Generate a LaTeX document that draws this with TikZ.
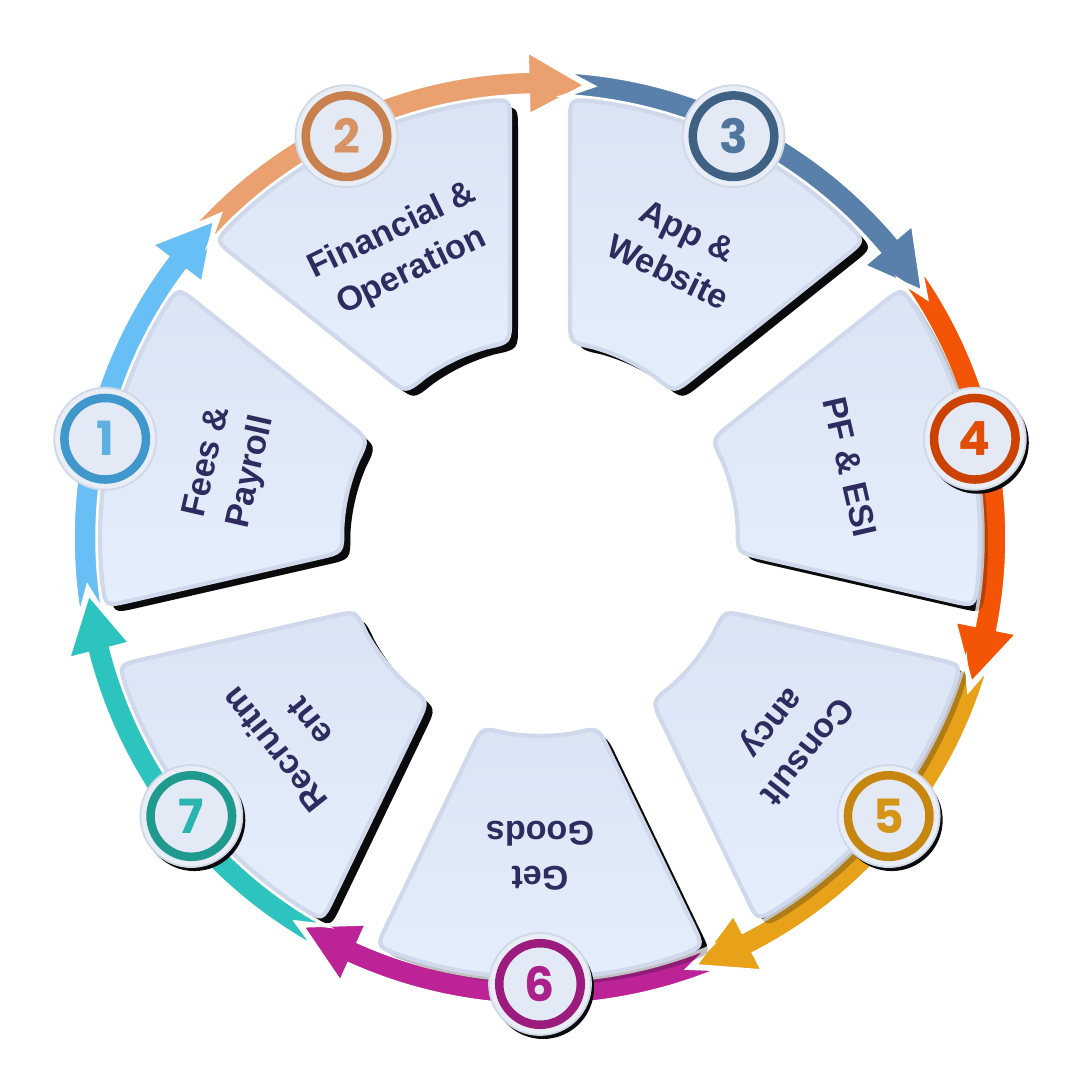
\documentclass[tikz,border=0pt]{standalone}
\usepackage{fontspec}
\setmainfont{Liberation Sans}
\newfontfamily\digitfont{Poppins}
\usetikzlibrary{calc}
\definecolor{Ink}{HTML}{2E2C5F}
\definecolor{CardTop}{HTML}{DBE4F4}
\definecolor{CardBot}{HTML}{E5EEFC}
\definecolor{CardEdge}{HTML}{D0D9EB}
\definecolor{Shade}{HTML}{0B0B0D}
\definecolor{Disc}{HTML}{E8EDF6}
\definecolor{DiscEdge}{HTML}{D0D8E6}
\definecolor{DiscIn}{HTML}{E3EAF6}
\definecolor{ArcA}{HTML}{67BFF6}
\definecolor{RingA}{HTML}{3F97CB}
\definecolor{ArcB}{HTML}{EAA06F}
\definecolor{RingB}{HTML}{C9804F}
\definecolor{ArcC}{HTML}{5880AB}
\definecolor{RingC}{HTML}{3F6184}
\definecolor{ArcD}{HTML}{F35405}
\definecolor{RingD}{HTML}{CC4200}
\definecolor{ArcE}{HTML}{E8A219}
\definecolor{RingE}{HTML}{C7860F}
\definecolor{ArcF}{HTML}{BB2397}
\definecolor{RingF}{HTML}{9B1C7D}
\definecolor{ArcG}{HTML}{2DC3BF}
\definecolor{RingG}{HTML}{20998F}

% one card, pointing along 0 degrees
\newcommand{\cardpath}{(18.68:440) arc[start angle=18.68, end angle=-18.68, radius=440]
  .. controls (-21.805:440) .. (-21.579:416.06) -- (-17.938:221.75)
  .. controls (-17:198) .. (-10.06:198) arc[start angle=-10.06, end angle=10.06, radius=198]
  .. controls (17:198) .. (17.938:221.75) -- (21.579:416.06)
  .. controls (21.805:440) .. cycle}

\begin{document}
\begin{tikzpicture}[x=0.01cm, y=0.01cm,
    card/.style={top color=CardTop, bottom color=CardBot, draw=CardEdge, line width=1.2pt},
    arcband/.style={draw=white, line width=1pt, line join=miter},
    disc/.style={circle, minimum size=1.02cm, inner sep=0pt, fill=Disc, draw=DiscEdge, line width=0.5pt},
    ring/.style={circle, minimum size=0.815cm, inner sep=0pt, line width=2.42pt, fill=DiscIn},
    steptext/.style={align=center, text=Ink, font=\bfseries\fontsize{9.7}{12.8}\selectfont}]
  \useasboundingbox (-540,-542) rectangle (540,538);

  % card shadows
  \foreach \k [evaluate=\k as \a using 167.142857-51.428571*(\k-1)] in {1,...,7} {
    \begin{scope}[shift={(8,-7)}, rotate=\a]
      \fill[Shade] \cardpath;
    \end{scope}
  }

  % ring of arrows
  \foreach \k/\arc in {1/ArcA,2/ArcB,3/ArcC,4/ArcD,5/ArcE,6/ArcF,7/ArcG} {
    \pgfmathsetmacro\a{167.142857-51.428571*(\k-1)}
    \pgfmathsetmacro\A{\a+22.5}
    \pgfmathsetmacro\T{\a-31.5}
    \pgfmathsetmacro\B{\T+7.3}
    \pgfmathsetmacro\N{\A-3.5}
    \filldraw[fill=\arc, arcband] (\A:467) arc[start angle=\A, end angle=\B, radius=467]
      -- (\B:487) -- (\T:455) -- (\B:423) -- (\B:443)
      arc[start angle=\B, end angle=\A, radius=443] -- (\N:455) -- cycle;
  }

  % shadow tint over the arrows
  \foreach \k [evaluate=\k as \a using 167.142857-51.428571*(\k-1)] in {1,...,7} {
    \begin{scope}[shift={(8,-7)}, rotate=\a]
      \fill[Shade, opacity=0.25] \cardpath;
    \end{scope}
  }

  % cards and labels
  \foreach \k/\label in {1/{Fees \&\\Payroll}, 2/{Financial \&\\Operation}, 3/{App \&\\Website},
      4/{PF \& ESI}, 5/{Consult\\ancy}, 6/{Get\\Goods}, 7/{Recruitm\\ent}} {
    \pgfmathsetmacro\a{167.142857-51.428571*(\k-1)}
    \begin{scope}[rotate=\a]
      \path[card] \cardpath;
    \end{scope}
    \node[steptext, rotate=\a-90] (t\k) at (\a:318) {\label};
  }

  % number badges
  \foreach \k/\arc/\ring/\sh in {1/ArcA/RingA/0, 2/ArcB/RingB/0, 3/ArcC/RingC/0,
      4/ArcD/RingD/1, 5/ArcE/RingE/1, 6/ArcF/RingF/1, 7/ArcG/RingG/1} {
    \pgfmathsetmacro\a{167.142857-51.428571*(\k-1)}
    \ifnum\sh=1
      \fill[Shade] ($(\a:446)+(3,-4)$) circle[radius=51];
    \fi
    \node[disc] (b\k) at (\a:446) {};
    \node[ring, draw=\ring, text=\arc!92!black,
      font=\digitfont\bfseries\fontsize{13.4}{13.4}\selectfont] (n\k) at (b\k) {\k};
  }
\end{tikzpicture}
\end{document}
